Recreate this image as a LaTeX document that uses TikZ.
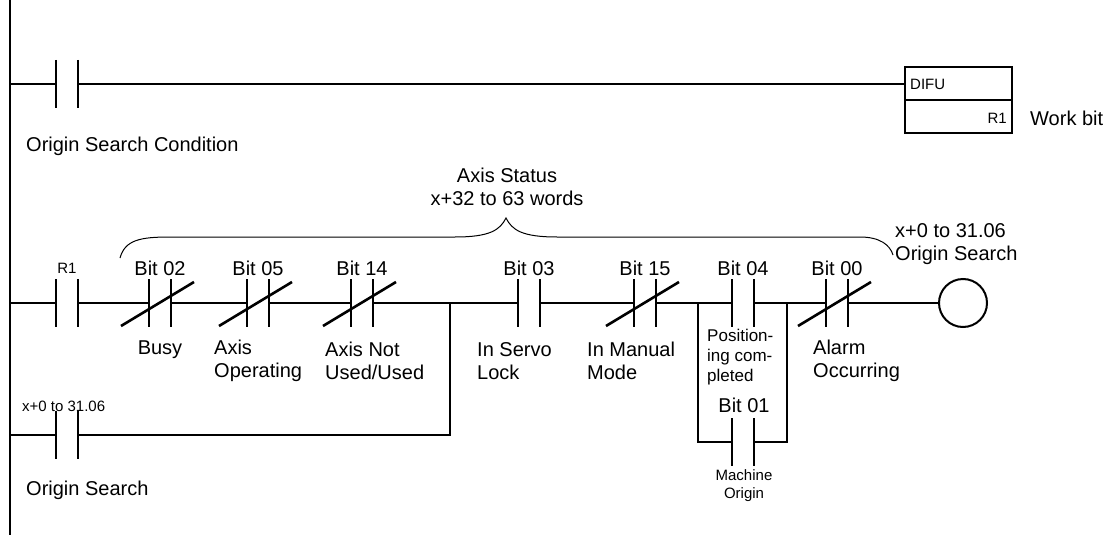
\documentclass[tikz,border=0pt]{standalone}
\usepackage{fontspec}
\setmainfont{Liberation Sans}
\begin{document}
\begin{tikzpicture}[x=1pt,y=-1pt,
 wire/.style={line width=1.2pt},
 bar/.style={line width=2.6pt},
 lab/.style={font=\fontsize{20}{23}\selectfont,inner sep=0pt},
 sm/.style={font=\fontsize{15}{18}\selectfont,inner sep=0pt},
 lft/.style={anchor=west,align=left}]
\useasboundingbox (0,0) rectangle (1115,540);
% rail
\coordinate (rt) at (10,0); \coordinate (rb) at (10,535);
\draw[wire] (rt)--(rb);
\newcommand{\nocon}[3]{% name, x, y
 \coordinate (#1l) at (#2-12,#3); \coordinate (#1r) at (#2+12,#3);
 \draw[bar] (#2-11,#3-24)--(#2-11,#3+24) (#2+11,#3-24)--(#2+11,#3+24);}
\newcommand{\ncon}[3]{\nocon{#1}{#2}{#3}\draw[bar] (#2-39,#3+23)--(#2+34,#3-21);}
% rung 1
\coordinate (r1a) at (10,84);
\nocon{c1}{67}{84}
\draw[wire] (r1a)--(c1l) (c1r)--(905,84);
\draw[line width=2pt] (905,67) rectangle (1012,133) (905,100)--(1012,100);
\node[sm,anchor=west] (difu) at (910,84) {DIFU};
\node[sm,anchor=east] (r1) at (1007,118) {R1};
\node[lab,anchor=west] (wb) at (1030,118) {Work bit};
\node[lab,anchor=west] (osc) at (26,146) {Origin Search Condition};
% rung 2
\nocon{a}{67}{303}
\ncon{b}{160}{303}
\ncon{c}{258}{303}
\ncon{d}{362}{303}
\nocon{e}{529}{303}
\ncon{f}{645}{303}
\nocon{g}{743}{303}
\ncon{h}{837}{303}
\draw[wire] (10,303)--(al) (ar)--(bl) (br)--(cl) (cr)--(dl) (dr)--(el) (er)--(fl) (fr)--(gl) (gr)--(hl) (hr)--(939,303);
\draw[line width=2pt] (963,303) circle (24);
\nocon{i}{743}{442}
\draw[wire] (698,303)--(698,442)--(il) (ir)--(787,442)--(787,303);
\nocon{j}{67}{435}
\draw[wire] (10,435)--(jl) (jr)--(450,435)--(450,303);
% labels
\node[sm] at (67,268) {R1};
\foreach \x/\t in {160/02,258/05,362/14,529/03,645/15,743/04,837/00}
 \node[lab] at (\x,268) {Bit \t};
\node[lab] at (160,350) {Busy};
\node[lab,lft] at (214,361) {Axis\\Operating};
\node[lab,lft] at (325,361) {Axis Not\\Used/Used};
\node[lab,lft] at (477,361) {In Servo\\Lock};
\node[lab,lft] at (587,361) {In Manual\\Mode};
\node[font=\fontsize{17}{20}\selectfont,inner sep=0pt,lft] at (707,357) {Position-\\ing com-\\pleted};
\node[lab] at (744,405) {Bit 01};
\node[sm,align=center] at (744,486) {Machine\\Origin};
\node[lab,lft] at (813,361) {Alarm\\Occurring};
\node[sm,anchor=west] at (22,406) {x+0 to 31.06};
\node[lab,anchor=west] at (26,490) {Origin Search};
\node[lab,lft] at (895,244) {x+0 to 31.06\\Origin Search};
\node[lab,align=center] at (507,187) {Axis Status\\x+32 to 63 words};
% brace
\draw[line width=1pt] (120,258) .. controls (125,240) and (140,237) .. (170,237) -- (455,237)
 .. controls (490,237) and (500,230) .. (506,218) .. controls (512,230) and (522,237) .. (557,237)
 -- (860,237) .. controls (880,237) and (890,245) .. (893,255);
\end{tikzpicture}
\end{document}
